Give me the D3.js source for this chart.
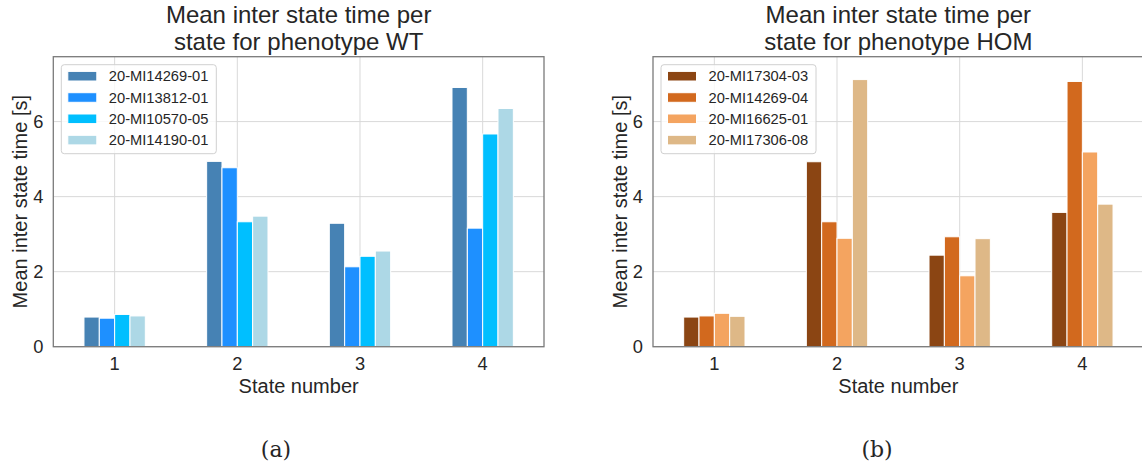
<!DOCTYPE html>
<html>
<head>
<meta charset="utf-8">
<script src="https://cdn.jsdelivr.net/npm/d3@7"></script>
<style>
  html, body { margin: 0; padding: 0; background: #ffffff; }
  svg { display: block; }
  text { font-family: "Liberation Sans", Arial, sans-serif; fill: #262626; }
</style>
</head>
<body>
<svg id="chart" width="1142" height="468"></svg>
<script>
const states = ["1", "2", "3", "4"];
const yTicks = [0, 2, 4, 6];

const wtSeries = ["20-MI14269-01", "20-MI13812-01", "20-MI10570-05", "20-MI14190-01"];
const wtColors = ["#4682B4", "#1E90FF", "#00BFFF", "#ADD8E6"];
const wt_MI14269_01 = [0.79, 4.94, 3.29, 6.91];
const wt_MI13812_01 = [0.76, 4.77, 2.13, 3.16];
const wt_MI10570_05 = [0.86, 3.33, 2.41, 5.67];
const wt_MI14190_01 = [0.82, 3.48, 2.55, 6.35];

const homSeries = ["20-MI17304-03", "20-MI14269-04", "20-MI16625-01", "20-MI17306-08"];
const homColors = ["#8B4513", "#D2691E", "#F4A460", "#DEB887"];
const hom_MI17304_03 = [0.79, 4.93, 2.44, 3.58];
const hom_MI14269_04 = [0.82, 3.33, 2.93, 7.07];
const hom_MI16625_01 = [0.89, 2.89, 1.89, 5.19];
const hom_MI17306_08 = [0.81, 7.12, 2.88, 3.80];

const yMax = 7.73;

const svg = d3.select("#chart");
const FONT = '"Liberation Sans", Arial, sans-serif';

function panel(opts) {
  const { x0, x1, y0, y1, title, series, colors, values, caption } = opts;
  const g = svg.append("g");

  const x = d3.scaleBand().domain(states).range([x0, x1]).paddingInner(0.5).paddingOuter(0.25);
  const xs = d3.scaleBand().domain(series).range([0, x.bandwidth()]);
  const y = d3.scaleLinear().domain([0, yMax]).range([y1, y0]);

  // grid
  const grid = g.append("g");
  grid.selectAll("line.h").data(yTicks).join("line")
    .attr("x1", x0).attr("x2", x1)
    .attr("y1", d => y(d)).attr("y2", d => y(d))
    .attr("stroke", "#d9d9d9").attr("stroke-width", 1);
  grid.selectAll("line.v").data(states).join("line")
    .attr("x1", d => x(d) + x.bandwidth() / 2).attr("x2", d => x(d) + x.bandwidth() / 2)
    .attr("y1", y0).attr("y2", y1)
    .attr("stroke", "#d9d9d9").attr("stroke-width", 1);

  // bars
  series.forEach((s, i) => {
    g.append("g").selectAll("rect").data(values[i]).join("rect")
      .attr("x", (d, j) => x(states[j]) + xs(s))
      .attr("y", d => y(d))
      .attr("width", xs.bandwidth())
      .attr("height", d => y(0) - y(d))
      .attr("fill", colors[i])
      .attr("stroke", "#ffffff").attr("stroke-width", 1);
  });

  // frame
  g.append("rect").attr("x", x0).attr("y", y0).attr("width", x1 - x0).attr("height", y1 - y0)
    .attr("fill", "none").attr("stroke", "#7a7a7a").attr("stroke-width", 1.3);

  // axes (ticks hidden, labels only)
  const xAxis = d3.axisBottom(x).tickSize(0).tickPadding(10);
  const gx = g.append("g").attr("transform", `translate(0,${y1})`).call(xAxis);
  gx.select(".domain").remove();
  gx.selectAll("text").attr("font-size", 18.3).attr("fill", "#262626").attr("font-family", FONT);

  const yAxis = d3.axisLeft(y).tickValues(yTicks).tickSize(0).tickPadding(10);
  const gy = g.append("g").attr("transform", `translate(${x0},0)`).call(yAxis);
  gy.select(".domain").remove();
  gy.selectAll("text").attr("font-size", 18.3).attr("fill", "#262626").attr("font-family", FONT);

  // titles and labels
  const pcx = (x0 + x1) / 2;
  const t = g.append("text").attr("x", pcx).attr("text-anchor", "middle").attr("font-size", 24);
  t.append("tspan").attr("x", pcx).attr("y", 23).text("Mean inter state time per");
  t.append("tspan").attr("x", pcx).attr("y", 49.5).text(title);

  g.append("text").attr("x", pcx).attr("y", 393).attr("text-anchor", "middle")
    .attr("font-size", 20).text("State number");

  g.append("text")
    .attr("transform", `translate(${x0 - 26.5},${(y0 + y1) / 2}) rotate(-90)`)
    .attr("text-anchor", "middle").attr("font-size", 20)
    .text("Mean inter state time [s]");

  // legend
  const lx = x0 + 8, ly = y0 + 8;
  const leg = g.append("g").attr("transform", `translate(${lx},${ly})`);
  leg.append("rect").attr("x", 0).attr("y", 0).attr("width", 155).attr("height", 89)
    .attr("rx", 3).attr("fill", "#ffffff").attr("fill-opacity", 0.8)
    .attr("stroke", "#d0d0d0").attr("stroke-width", 1);
  series.forEach((s, i) => {
    const row = leg.append("g").attr("transform", `translate(0,${11.5 + i * 21.3})`);
    row.append("rect").attr("x", 6.5).attr("y", -4.8).attr("width", 29).attr("height", 9.6)
      .attr("fill", colors[i]).attr("stroke", "#ffffff").attr("stroke-width", 1);
    row.append("text").attr("x", 47.5).attr("y", 5.2).attr("font-size", 14.7).text(s);
  });

  // caption
  svg.append("text").attr("x", caption.x).attr("y", 457).attr("text-anchor", "middle")
    .attr("font-size", 22).style("font-family", '"DejaVu Serif", "Liberation Serif", serif')
    .text(caption.text);
}

panel({
  x0: 53.3, x1: 544, y0: 56.7, y1: 346.7,
  title: "state for phenotype WT",
  series: wtSeries, colors: wtColors,
  values: [wt_MI14269_01, wt_MI13812_01, wt_MI10570_05, wt_MI14190_01],
  caption: { x: 276, text: "(a)" }
});

panel({
  x0: 653, x1: 1143.7, y0: 56.7, y1: 346.7,
  title: "state for phenotype HOM",
  series: homSeries, colors: homColors,
  values: [hom_MI17304_03, hom_MI14269_04, hom_MI16625_01, hom_MI17306_08],
  caption: { x: 877, text: "(b)" }
});
</script>
</body>
</html>
